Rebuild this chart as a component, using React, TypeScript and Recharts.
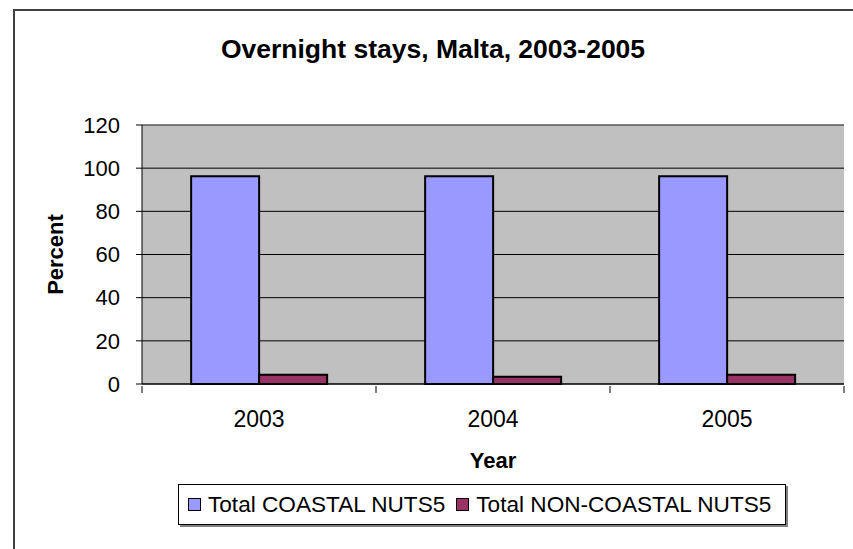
import React from "react";
import {
  BarChart,
  Bar,
  XAxis,
  YAxis,
  CartesianGrid,
  Legend,
  ReferenceLine,
} from "recharts";

const years = ["2003", "2004", "2005"];
const coastal = [96.2, 96.2, 96.2];
const nonCoastal = [4.3, 3.4, 4.3];
const yTicks = [0, 20, 40, 60, 80, 100, 120];

const data = years.map((year, i) => ({
  year,
  coastal: coastal[i],
  nonCoastal: nonCoastal[i],
}));

const FONT = "'Liberation Sans', Arial, sans-serif";
const PLOT_LEFT = 142;
const PLOT_RIGHT = 844;
const BAND = (PLOT_RIGHT - PLOT_LEFT) / years.length;

const SERIES = [
  { key: "coastal", name: "Total COASTAL NUTS5", color: "#9999FF" },
  { key: "nonCoastal", name: "Total NON-COASTAL NUTS5", color: "#993366" },
];

// ticks sit between categories in the original, labels centred
function YearTick(props: any) {
  const { x, y, payload, index } = props;
  const axisY = y - 6;
  return (
    <g>
      {index === 0 && (
        <line x1={x - BAND / 2} x2={x - BAND / 2} y1={axisY} y2={axisY + 7} stroke="#000" />
      )}
      <line x1={x + BAND / 2} x2={x + BAND / 2} y1={axisY} y2={axisY + 7} stroke="#000" />
      <text
        x={x}
        y={axisY + 41}
        textAnchor="middle"
        fontSize={23}
        fontFamily={FONT}
        fill="#000"
      >
        {payload.value}
      </text>
    </g>
  );
}

function LegendBox() {
  return (
    <div
      style={{
        width: 606,
        height: 39,
        border: "1px solid #000",
        boxShadow: "2px 2px 0 #808080",
        background: "#fff",
        display: "flex",
        alignItems: "center",
        fontFamily: FONT,
        fontSize: 22.6,
        color: "#000",
        boxSizing: "content-box",
        whiteSpace: "nowrap",
      }}
    >
      {SERIES.map((s, i) => (
        <div
          key={s.key}
          style={{
            display: "flex",
            alignItems: "center",
            marginLeft: i === 0 ? 9 : 11,
          }}
        >
          <span
            style={{
              width: 11,
              height: 11,
              background: s.color,
              border: "1px solid #000",
              marginRight: 7,
              display: "inline-block",
            }}
          />
          <span>{s.name}</span>
        </div>
      ))}
    </div>
  );
}

export default function App() {
  return (
    <div
      style={{
        position: "absolute",
        left: 0,
        top: 0,
        width: 853,
        height: 549,
        overflow: "hidden",
        background: "#fff",
      }}
    >
      <div
        style={{
          position: "absolute",
          left: 13,
          top: 9,
          width: 900,
          height: 600,
          border: "2px solid #404040",
        }}
      />
      <div
        style={{
          position: "absolute",
          left: 0,
          width: 866,
          top: 34,
          textAlign: "center",
          fontFamily: FONT,
          fontWeight: "bold",
          fontSize: 26.5,
          color: "#000",
        }}
      >
        Overnight stays, Malta, 2003-2005
      </div>
      <div style={{ position: "absolute", left: 0, top: 0 }}>
        <BarChart
          width={853}
          height={549}
          data={data}
          margin={{ top: 125, right: 9, bottom: 65, left: 0 }}
          barCategoryGap="21%"
          barGap={0}
        >
          <CartesianGrid fill="#C0C0C0" stroke="#000" vertical={false} />
          <XAxis
            dataKey="year"
            height={100}
            tickLine={false}
            axisLine={{ stroke: "#000" }}
            tick={<YearTick />}
            interval={0}
            label={{
              value: "Year",
              position: "insideBottom",
              offset: 16,
              style: { fontFamily: FONT, fontWeight: "bold", fontSize: 22, fill: "#000" },
            }}
          />
          <YAxis
            width={PLOT_LEFT}
            domain={[0, 120]}
            ticks={yTicks}
            tickSize={6}
            tickMargin={16}
            axisLine={{ stroke: "#000" }}
            tickLine={{ stroke: "#000" }}
            tick={{ fontSize: 22, fontFamily: FONT, fill: "#000" }}
            label={{
              value: "Percent",
              angle: -90,
              position: "insideLeft",
              offset: 55,
              style: {
                textAnchor: "middle",
                fontFamily: FONT,
                fontWeight: "bold",
                fontSize: 22,
                fill: "#000",
              },
            }}
          />
          <YAxis
            yAxisId="right"
            orientation="right"
            width={0}
            tick={false}
            tickLine={false}
            axisLine={{ stroke: "#808080" }}
          />
          <ReferenceLine y={120} stroke="#808080" />
          {SERIES.map((s) => (
            <Bar
              key={s.key}
              dataKey={s.key}
              name={s.name}
              fill={s.color}
              stroke="#000"
              strokeWidth={2}
              isAnimationActive={false}
            />
          ))}
          <Legend
            layout="vertical"
            align="center"
            verticalAlign="middle"
            content={() => <LegendBox />}
            wrapperStyle={{ position: "absolute", left: 178, top: 484, width: "auto" }}
          />
        </BarChart>
      </div>
    </div>
  );
}
